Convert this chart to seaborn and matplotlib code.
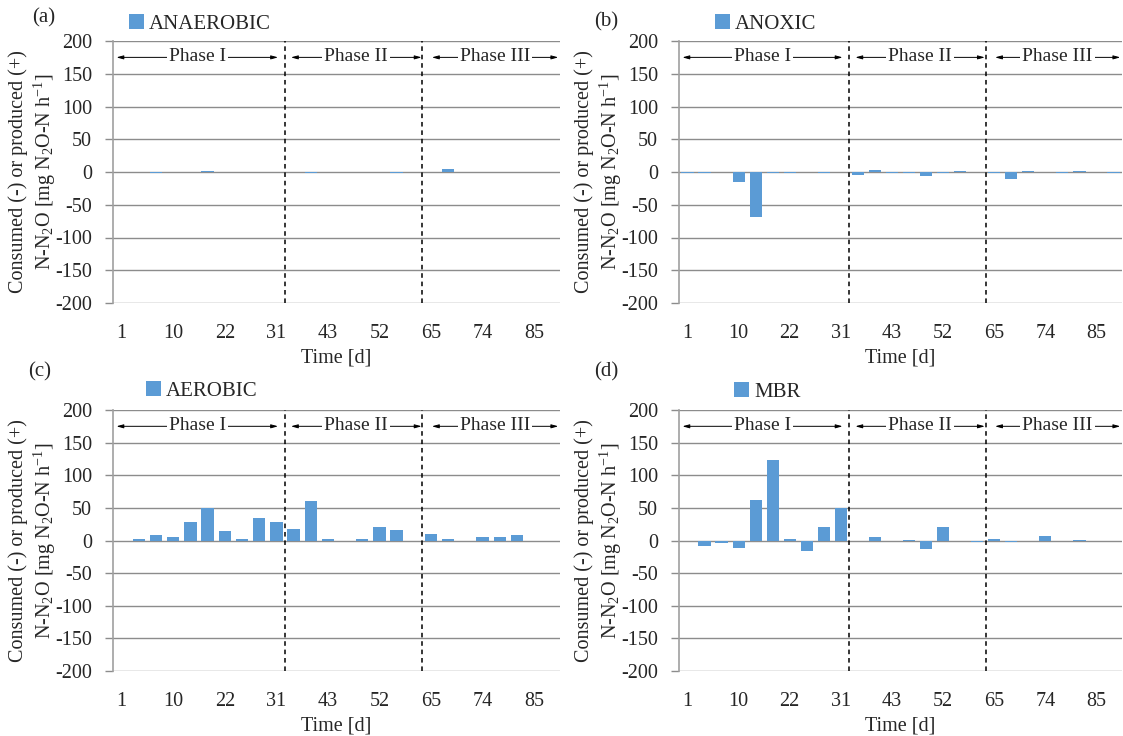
import matplotlib
matplotlib.use("Agg")
import matplotlib.pyplot as plt
from matplotlib.patches import Patch
import seaborn as sns

# ---------------- data ----------------
days = [1, 4, 7, 10, 14, 18, 22, 25, 28, 31, 35, 39, 43, 46, 49, 52, 56, 60,
        65, 68, 71, 74, 78, 81, 85, 88]
tick_every = 3

anaerobic = [0, 0, -1, 0, 0, 1, 0, 0, 0, 0, 0, -1, 0, 0, 0, 0, -1, 0,
             0, 4, 0, 0, 0, 0, 0, 0]
anoxic = [-2, -1, 0, -15, -69, -1, -1, 0, -1, 0, -4, 3, -1, -1, -6, -1, 1, 0,
          -1, -10, 1, 0, -1, 1, 0, -1]
aerobic = [0, 3, 8, 6, 29, 50, 14, 2.5, 34, 29, 17.5, 60, 3, 0, 2.5, 21, 16.5, 0,
           10.5, 3, 0, 6, 5, 8, 0, 0]
mbr = [-1, -8, -4, -11, 62, 123, 3, -15.5, 20, 50, -1, 4.6, 0, 0.5, -13, 21, 0, -2.5,
       2.5, -2, 0, 6.7, 0, 0.5, -0.5, 0]

series = [("ANAEROBIC", anaerobic), ("ANOXIC", anoxic), ("AEROBIC", aerobic), ("MBR", mbr)]
panel_letters = ["(a)", "(b)", "(c)", "(d)"]
phases = [("Phase I", -0.3, 9.1), ("Phase II", 9.85, 17.45), ("Phase III", 18.05, 25.4)]
phase_bounds = [9.5, 17.5]
yticks = list(range(-200, 201, 50))

# ---------------- style ----------------
sns.set_style("white")
plt.rcParams["font.family"] = ["Liberation Serif", "DejaVu Serif"]
plt.rcParams["mathtext.fontset"] = "custom"
plt.rcParams["mathtext.rm"] = "Liberation Serif"
plt.rcParams["mathtext.it"] = "Liberation Serif:italic"
plt.rcParams["mathtext.bf"] = "Liberation Serif:bold"

BLUE = "#5B9BD5"
GRID = "#8c8c8c"

W, H = 1123, 736
fig = plt.figure(figsize=(W / 100, H / 100), dpi=100)

positions = [
    (113, 41, 560, 303),
    (679, 41, 1122, 303),
    (113, 410, 560, 671),
    (679, 410, 1122, 671),
]
legend_pos = [(129, 24), (715, 24), (146, 391), (734, 392)]
letter_pos = [(32, 18), (594, 22), (28, 372), (594, 372)]

labels = [str(d) if i % tick_every == 0 else "" for i, d in enumerate(days)]
xcat = [str(d) for d in days]

for k, ((name, vals), (x0, y0, x1, y1)) in enumerate(zip(series, positions)):
    ax = fig.add_axes([x0 / W, 1 - y1 / H, (x1 - x0) / W, (y1 - y0) / H])
    sns.barplot(x=xcat, y=vals, color=BLUE, saturation=1, width=0.72, ax=ax,
                linewidth=0, zorder=3)
    ax.set_xlim(-0.5, len(days) - 0.5)
    ax.set_ylim(-200, 200)
    ax.set_yticks(yticks)
    ax.set_yticklabels([str(t) for t in yticks])
    ax.set_xticks(range(len(days)))
    ax.set_xticklabels(labels)
    ax.set_axisbelow(True)
    ax.yaxis.grid(True, color=GRID, lw=1.0, zorder=0)
    ax.xaxis.grid(False)
    for s in ["top", "right", "bottom"]:
        ax.spines[s].set_visible(False)
    ax.spines["left"].set_color("#a0a0a0")
    ax.spines["left"].set_linewidth(1.2)
    ax.tick_params(axis="y", length=6, width=1, color=GRID, pad=9, labelsize=14.5,
                   left=True)
    ax.tick_params(axis="x", length=0, pad=15, labelsize=14.5)
    for lab in ax.get_yticklabels() + ax.get_xticklabels():
        lab.set_clip_on(False)
    ax.set_xlabel("Time [d]", fontsize=14.5, labelpad=4)
    ax.set_ylabel("Consumed (-) or produced (+)\nN-N$_\\mathrm{2}$O [mg N$_\\mathrm{2}$O-N h$^\\mathrm{-1}$]",
                  fontsize=14.5, labelpad=-2, linespacing=1.2)

    for xb in phase_bounds:
        ax.axvline(xb, color="black", lw=1.1, ls=(0, (3, 2.5)), zorder=4)

    for ptxt, a, b in phases:
        ax.annotate("", xy=(a, 175), xytext=(b, 175),
                    arrowprops=dict(arrowstyle="<|-|>,head_length=0.4,head_width=0.11",
                                    color="black", lw=0.7, shrinkA=0, shrinkB=0),
                    zorder=5)
        ax.text((a + b) / 2, 176, ptxt, ha="center", va="center", fontsize=14,
                zorder=6, bbox=dict(facecolor="white", edgecolor="none", pad=1.5))

    lx, ly = legend_pos[k]
    ax.legend(handles=[Patch(facecolor=BLUE, edgecolor="none")], labels=[name],
              loc="center left", bbox_to_anchor=(lx / W, 1 - ly / H),
              bbox_transform=fig.transFigure, frameon=False, fontsize=15,
              handlelength=0.72, handleheight=0.72, handletextpad=0.25,
              borderpad=0, borderaxespad=0)

    px, py = letter_pos[k]
    fig.text(px / W, 1 - py / H, panel_letters[k], fontsize=15, ha="left", va="center")

fig.savefig("out.png", dpi=100)
